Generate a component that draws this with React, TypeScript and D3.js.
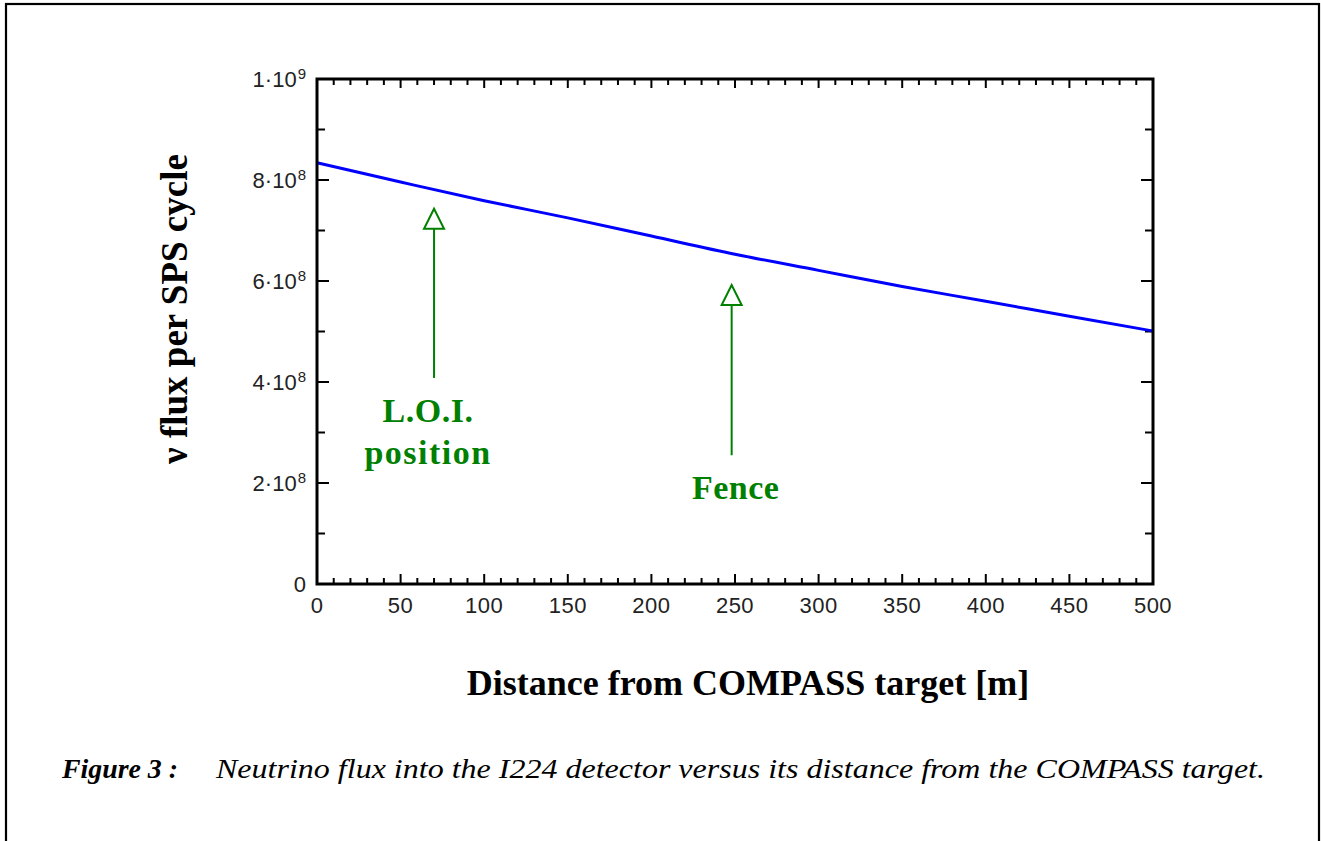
import React from "react";
import * as d3 from "d3";

// ---- data ----
const distances = [0, 50, 100, 150, 200, 250, 300, 350, 400, 450, 500];
const fluxValues = [8.34e8, 7.96e8, 7.59e8, 7.25e8, 6.89e8, 6.53e8, 6.21e8, 5.89e8, 5.6e8, 5.3e8, 5.01e8];
const xMajorTicks = [0, 50, 100, 150, 200, 250, 300, 350, 400, 450, 500];
const yMajorTicks = [0, 2e8, 4e8, 6e8, 8e8, 1e9];
const annotationLabels = [["L.O.I.", "position"], ["Fence"]];
const annotationX = [70, 248];
const annotationTip = [7.43e8, 5.92e8];
const annotationBase = [4.08e8, 2.55e8];

const xTitle = "Distance from COMPASS target [m]";
const yTitle = "\u03bd flux per SPS cycle";
const captionBold = "Figure 3 :";
const captionText = "Neutrino flux into the I224 detector versus its distance from the COMPASS target.";

const W = 1321;
const H = 841;
const plot = { left: 317, right: 1153, top: 79, bottom: 584 };
const green = "#008000";
const serif = "'Liberation Serif', 'Times New Roman', serif";
const sans = "'Liberation Sans', Arial, sans-serif";

function yLabel(v: number) {
  if (v === 0) return { main: "0", sup: "" };
  const e = Math.floor(Math.log10(v) + 1e-9);
  const m = Math.round(v / Math.pow(10, e));
  return { main: `${m}\u00b710`, sup: String(e) };
}

export default function App() {
  const x = d3.scaleLinear().domain([0, 500]).range([plot.left, plot.right]);
  const y = d3.scaleLinear().domain([0, 1e9]).range([plot.bottom, plot.top]);
  const line = d3
    .line<number>()
    .x((_, i) => x(distances[i]))
    .y((d) => y(d))
    .curve(d3.curveMonotoneX);

  const xMinor = d3.range(0, 501, 10);
  const yMinor = d3.range(0, 1e9 + 1, 1e8);

  const tickStroke = { stroke: "#000", strokeWidth: 2 };

  return (
    <svg
      width={W}
      height={H}
      style={{ position: "absolute", left: 0, top: 0, background: "#fff" }}
    >
      {/* outer page border */}
      <rect x={6} y={4} width={1313} height={H + 20} fill="none" stroke="#000" strokeWidth={2.2} />

      {/* ticks: bottom & top */}
      {xMinor.map((v) => {
        const major = v % 50 === 0;
        return (
          <g key={"xt" + v}>
            <line x1={x(v)} x2={x(v)} y1={plot.bottom} y2={plot.bottom - (major ? 10 : 6)} {...tickStroke} />
            <line x1={x(v)} x2={x(v)} y1={plot.top} y2={plot.top + (major ? 9 : 6)} {...tickStroke} />
          </g>
        );
      })}
      {/* ticks: left & right */}
      {yMinor.map((v, i) => {
        const major = i % 2 === 0;
        return (
          <g key={"yt" + i}>
            <line x1={plot.left} x2={plot.left + (major ? 12 : 8)} y1={y(v)} y2={y(v)} {...tickStroke} />
            <line x1={plot.right} x2={plot.right - (major ? 12 : 8)} y1={y(v)} y2={y(v)} {...tickStroke} />
          </g>
        );
      })}

      {/* data line */}
      <path d={line(fluxValues) || ""} fill="none" stroke="#0000ff" strokeWidth={3} />

      {/* frame */}
      <rect
        x={plot.left}
        y={plot.top}
        width={plot.right - plot.left}
        height={plot.bottom - plot.top}
        fill="none"
        stroke="#000"
        strokeWidth={3}
      />

      {/* x tick labels */}
      {xMajorTicks.map((v) => (
        <text
          key={"xl" + v}
          x={x(v)}
          y={613}
          textAnchor="middle"
          fontFamily={sans}
          fontSize={22}
          letterSpacing={0.5}
          fill="#222"
        >
          {v}
        </text>
      ))}

      {/* y tick labels */}
      {yMajorTicks.map((v) => {
        const l = yLabel(v);
        return (
          <text
            key={"yl" + v}
            x={306}
            y={y(v) + 8}
            textAnchor="end"
            fontFamily={sans}
            fontSize={22}
            fill="#222"
          >
            <tspan>{l.main}</tspan>
            {l.sup && (
              <tspan dx={1} dy={-8} fontSize={15}>
                {l.sup}
              </tspan>
            )}
          </text>
        );
      })}

      {/* annotations */}
      {annotationLabels.map((labels, i) => {
        const ax = x(annotationX[i]);
        const tip = y(annotationTip[i]);
        const base = y(annotationBase[i]);
        const headH = 20;
        const headW = 10;
        return (
          <g key={"ann" + i}>
            <line x1={ax} x2={ax} y1={base} y2={tip + headH} stroke={green} strokeWidth={2} />
            <polygon
              points={`${ax},${tip} ${ax - headW},${tip + headH} ${ax + headW},${tip + headH}`}
              fill="#fff"
              stroke={green}
              strokeWidth={2}
            />
            {labels.map((t, j) => (
              <text
                key={t}
                x={ax - (i === 0 ? 6 : -4)}
                y={base + 44 + j * 42}
                textAnchor="middle"
                fontFamily={serif}
                fontWeight="bold"
                fontSize={34}
                letterSpacing={j === 1 ? 1.5 : 0.5}
                fill={green}
              >
                {t}
              </text>
            ))}
          </g>
        );
      })}

      {/* axis titles */}
      <text
        x={748}
        y={695}
        textAnchor="middle"
        fontFamily={serif}
        fontWeight="bold"
        fontSize={36}
        fill="#000"
      >
        {xTitle}
      </text>
      <text
        transform={`translate(187,309) rotate(-90)`}
        textAnchor="middle"
        fontFamily={serif}
        fontWeight="bold"
        fontSize={37}
        fill="#000"
      >
        {yTitle}
      </text>

      {/* caption */}
      <text
        x={62}
        y={778}
        fontFamily={serif}
        fontStyle="italic"
        fontWeight="bold"
        fontSize={27}
        textLength={116}
        lengthAdjust="spacingAndGlyphs"
        fill="#000"
      >
        {captionBold}
      </text>
      <text
        x={216}
        y={778}
        fontFamily={serif}
        fontStyle="italic"
        fontSize={27}
        textLength={1049}
        lengthAdjust="spacingAndGlyphs"
        fill="#000"
      >
        {captionText}
      </text>
    </svg>
  );
}
